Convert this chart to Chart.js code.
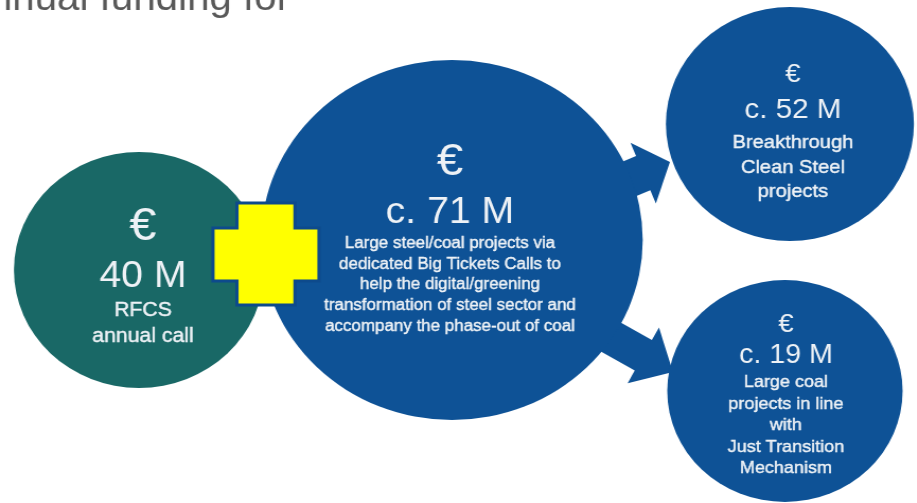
<!DOCTYPE html>
<html>
<head>
<meta charset="utf-8">
<script src="https://cdn.jsdelivr.net/npm/chart.js@4/dist/chart.umd.min.js"></script>
<style>
    html, body { margin: 0; padding: 0; background: #ffffff; overflow: hidden; }
    #wrap { width: 865px; height: 503px; transform: scaleX(1.06); transform-origin: 0 0; }
</style>
</head>
<body>
<div id="wrap"><canvas id="fundingChart" width="865" height="503"></canvas></div>
<script>
// funding amounts (million EUR) and their labels
const amounts = [40, 71, 52, 19];
const approx = [false, true, true, true];
const descriptions = [
    ['RFCS', 'annual call'],
    ['Large steel/coal projects via', 'dedicated Big Tickets Calls to', 'help the digital/greening',
     'transformation of steel sector and', 'accompany the phase-out of coal'],
    ['Breakthrough', 'Clean Steel', 'projects'],
    ['Large coal', 'projects in line', 'with', 'Just Transition', 'Mechanism']
];
const titleText = 'Annual funding for';

// layout in picture pixels (x 0..917, y 0..503)
const layout = [
    { x: 139, y: 270, r: 118, color: '#196866', tx: 143, euro: [46, 240], amt: [37, 287], desc: [20, 316, 26] },
    { x: 452, y: 240, r: 180, color: '#0e5296', tx: 450, euro: [45, 175], amt: [37, 223], desc: [16, 248, 20.7] },
    { x: 790, y: 124, r: 117, color: '#0e5296', tx: 793, euro: [26, 82], amt: [28, 118], desc: [19, 148, 24.5] },
    { x: 785, y: 391, r: 111, color: '#0e5296', tx: 786, euro: [26, 332], amt: [27, 363], desc: [17, 387, 21.5] }
];
const arrows = [
    { from: [574, 202], to: [670, 162], head: 29, headW: 66, shaftW: 37 },
    { from: [568, 313], to: [673, 372], head: 34, headW: 64, shaftW: 35 }
];
const cross = { outer: [213, 319], inner: [237, 295], top: 203, bottom: 305, armTop: 228, armBottom: 281 };

const FONT = '"Liberation Sans", Arial, sans-serif';
const TEXT_COLOR = '#eef2f6';

function arrowPolygon(a) {
    const dx = a.to[0] - a.from[0], dy = a.to[1] - a.from[1];
    const len = Math.sqrt(dx * dx + dy * dy);
    const ux = dx / len, uy = dy / len;
    const nx = -uy, ny = ux;
    const bx = a.to[0] - ux * a.head, by = a.to[1] - uy * a.head;
    const s = a.shaftW / 2, h = a.headW / 2;
    return [
        [a.from[0] + nx * s, a.from[1] + ny * s],
        [bx + nx * s, by + ny * s],
        [bx + nx * h, by + ny * h],
        [a.to[0], a.to[1]],
        [bx - nx * h, by - ny * h],
        [bx - nx * s, by - ny * s],
        [a.from[0] - nx * s, a.from[1] - ny * s]
    ];
}

const decorPlugin = {
    id: 'decor',
    beforeDatasetsDraw(chart) {
        const { ctx, scales: { x, y } } = chart;
        ctx.save();
        ctx.fillStyle = '#0e5296';
        arrows.forEach(a => {
            const pts = arrowPolygon(a);
            ctx.beginPath();
            pts.forEach(([px, py], i) => {
                const cx = x.getPixelForValue(px), cy = y.getPixelForValue(py);
                if (i === 0) ctx.moveTo(cx, cy); else ctx.lineTo(cx, cy);
            });
            ctx.closePath();
            ctx.fill();
        });
        ctx.restore();
    },
    afterDatasetsDraw(chart) {
        const { ctx, scales: { x, y } } = chart;
        ctx.save();

        // texts inside bubbles
        ctx.textAlign = 'center';
        ctx.textBaseline = 'alphabetic';
        ctx.fillStyle = TEXT_COLOR;
        ctx.strokeStyle = TEXT_COLOR;
        ctx.lineWidth = 0.4;
        amounts.forEach((amt, i) => {
            const l = layout[i];
            const tx = x.getPixelForValue(l.tx);
            ctx.font = `${l.euro[0]}px ${FONT}`;
            ctx.fillText('€', tx, y.getPixelForValue(l.euro[1]));
            ctx.font = `${l.amt[0]}px ${FONT}`;
            ctx.fillText((approx[i] ? 'c. ' : '') + amt + ' M', tx, y.getPixelForValue(l.amt[1]));
            ctx.font = `${l.desc[0]}px ${FONT}`;
            descriptions[i].forEach((line, j) => {
                const ly = y.getPixelForValue(l.desc[1] + j * l.desc[2]);
                ctx.fillText(line, tx, ly);
                ctx.strokeText(line, tx, ly);
            });
        });

        // yellow plus sign
        const c = cross;
        const pts = [
            [c.inner[0], c.top], [c.inner[1], c.top], [c.inner[1], c.armTop], [c.outer[1], c.armTop],
            [c.outer[1], c.armBottom], [c.inner[1], c.armBottom], [c.inner[1], c.bottom], [c.inner[0], c.bottom],
            [c.inner[0], c.armBottom], [c.outer[0], c.armBottom], [c.outer[0], c.armTop], [c.inner[0], c.armTop]
        ];
        ctx.beginPath();
        pts.forEach(([px, py], i) => {
            const cx = x.getPixelForValue(px), cy = y.getPixelForValue(py);
            if (i === 0) ctx.moveTo(cx, cy); else ctx.lineTo(cx, cy);
        });
        ctx.closePath();
        ctx.fillStyle = '#ffff00';
        ctx.fill();
        ctx.lineWidth = 3;
        ctx.strokeStyle = '#0d4a8c';
        ctx.stroke();

        // title, cut at the top
        ctx.font = `38px ${FONT}`;
        ctx.textAlign = 'right';
        ctx.fillStyle = '#595959';
        ctx.fillText(titleText, x.getPixelForValue(290), y.getPixelForValue(10));
        ctx.restore();
    }
};

const ctx = document.getElementById('fundingChart').getContext('2d');
new Chart(ctx, {
    type: 'bubble',
    data: {
        datasets: [{
            data: layout.map(l => ({ x: l.x, y: l.y, r: l.r })),
            backgroundColor: layout.map(l => l.color),
            borderWidth: 0,
            hoverRadius: 0,
            clip: false
        }]
    },
    options: {
        responsive: false,
        animation: false,
        events: [],
        layout: { padding: 0, autoPadding: false },
        plugins: { legend: { display: false }, tooltip: { enabled: false } },
        scales: {
            x: { type: 'linear', min: 0, max: 917, display: false },
            y: { type: 'linear', min: 0, max: 503, reverse: true, display: false }
        }
    },
    plugins: [decorPlugin]
});
</script>
</body>
</html>
